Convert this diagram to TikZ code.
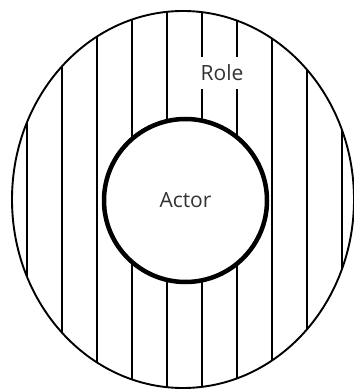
\documentclass[tikz,border=0pt]{standalone}
\usepackage{fontspec}
\setmainfont{Open Sans}

\begin{document}
\begin{tikzpicture}[x=1pt,y=-1pt,
    hatch/.style={line width=1.9pt},
    label/.style={font=\fontsize{21}{21}\selectfont, text=black!80}]
    \useasboundingbox (0,0) rectangle (353,390);

    \coordinate (o) at (183,199.5);
    \coordinate (c) at (185.5,200.5);

    % vertical hatching inside the role ellipse
    \begin{scope}
        \clip (o) ellipse [x radius=171, y radius=188.5];
        \foreach \x in {27,62,...,342}
            \draw [hatch] (\x,0) -- (\x,390);
    \end{scope}
    \draw [line width=1.9pt] (o) ellipse [x radius=171, y radius=188.5];

    \node [label, circle, draw, line width=4.5pt, fill=white, minimum size=163pt] (actor) at (c) {Actor};
    \node [label, fill=white, inner xsep=1pt, inner ysep=7.5pt] (role) at (222,73) {Role};

\end{tikzpicture}
\end{document}
